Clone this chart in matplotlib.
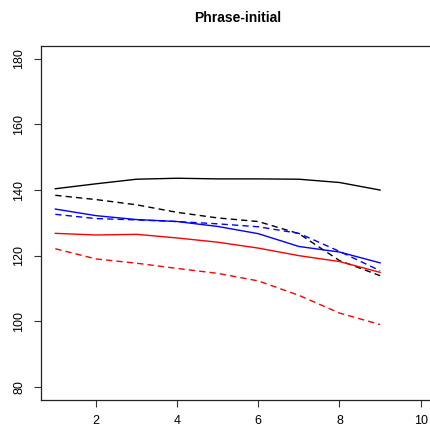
import matplotlib
matplotlib.use("Agg")
import matplotlib.pyplot as plt

plt.rcParams['font.family'] = ['Liberation Sans', 'DejaVu Sans']

x = [1, 2, 3, 4, 5, 6, 7, 8, 9]
black_solid = [140.4, 141.9, 143.3, 143.6, 143.4, 143.4, 143.3, 142.3, 140.0]
black_dashed = [138.4, 137.1, 135.5, 133.2, 131.5, 130.4, 126.7, 118.5, 113.9]
blue_solid = [134.2, 132.2, 131.0, 130.4, 128.9, 126.7, 122.8, 121.1, 117.8]
blue_dashed = [132.6, 131.3, 130.9, 130.4, 129.7, 128.8, 126.8, 121.3, 115.4]
red_solid = [126.8, 126.3, 126.5, 125.4, 124.1, 122.3, 120.0, 118.2, 114.9]
red_dashed = [122.1, 119.0, 117.7, 116.1, 114.6, 112.3, 107.9, 102.5, 99.0]
xticks = [2, 4, 6, 8, 10]
yticks = [80, 100, 120, 140, 160, 180]
title = "Phrase-initial"

W = 430.0
fig = plt.figure(figsize=(4.3, 4.3), dpi=100)
left, right, top, bottom = 40.7, 435.3, 45.7, 400.0
ax = fig.add_axes([left / W, (W - bottom) / W, (right - left) / W, (bottom - top) / W])

dash = (4.5, 3)
ax.plot(x, black_solid, color='black', lw=1)
ax.plot(x, black_dashed, color='black', lw=1, dashes=dash)
ax.plot(x, blue_solid, color='blue', lw=1)
ax.plot(x, blue_dashed, color='blue', lw=1, dashes=dash)
ax.plot(x, red_solid, color='red', lw=1)
ax.plot(x, red_dashed, color='red', lw=1, dashes=dash)

ax.set_xlim(0.64, 10.36)
ax.set_ylim(76, 184)
ax.set_xticks(xticks)
ax.set_yticks(yticks)
ax.set_yticklabels([str(v) for v in yticks], rotation=90, va='center')
ax.tick_params(axis='both', direction='out', length=5, width=0.8, labelsize=9, pad=6, color='#333333')
for s in ax.spines.values():
    s.set_linewidth(0.9)
    s.set_color('#222222')

fig.text(237.5 / W, 1 - 18 / W, title, ha='center', va='center', fontsize=10, fontweight='bold')

fig.savefig('out.png', dpi=100)
